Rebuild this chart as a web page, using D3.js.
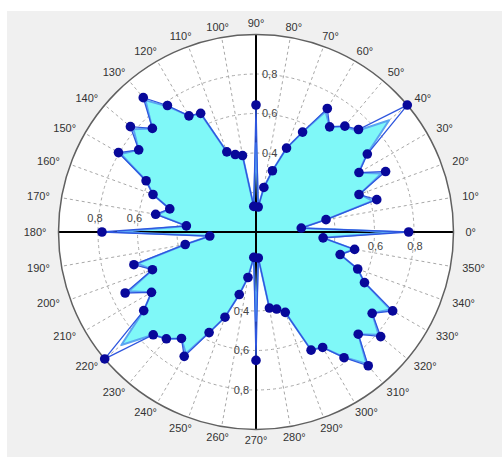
<!DOCTYPE html>
<html>
<head>
<meta charset="utf-8">
<script src="https://cdn.jsdelivr.net/npm/d3@7"></script>
<style>
  body { margin: 0; background: #fff; }
  text { font-family: Arial, "Liberation Sans", sans-serif; }
</style>
</head>
<body>
<svg id="polar" width="502" height="457"></svg>
<script>
(function(){
  // angle categories (degrees) and measured values
  var angles = [0,5,10,15,20,25,30,35,40,45,50,55,60,65,70,75,80,85,
                90,95,100,105,110,115,120,125,130,135,140,145,150,155,160,165,170,175,
                180,185,190,195,200,205,210,215,220,225,230,235,240,245,250,255,260,265,
                270,275,280,285,290,295,300,305,310,315,320,325,330,335,340,345,350,355]

  var markerVals = [0.773,0.230,0.360,0.633,0.555,0.724,0.602,0.688,1.000,0.734,0.700,0.650,0.722,0.558,0.452,0.321,0.229,0.127,
                    0.643,0.130,0.393,0.406,0.432,0.663,0.679,0.782,0.888,0.742,0.830,0.725,0.804,0.614,0.555,0.452,0.516,0.354,
                    0.780,0.235,0.364,0.640,0.558,0.731,0.611,0.694,1.000,0.736,0.706,0.658,0.727,0.562,0.459,0.328,0.234,0.129,
                    0.650,0.132,0.391,0.404,0.433,0.660,0.675,0.777,0.884,0.732,0.824,0.718,0.799,0.606,0.548,0.441,0.507,0.341]

  var fillVals = [0.700,0.230,0.360,0.610,0.560,0.700,0.600,0.685,0.880,0.725,0.695,0.650,0.705,0.558,0.452,0.321,0.229,0.127,
                  0.450,0.130,0.393,0.406,0.432,0.660,0.679,0.775,0.870,0.742,0.810,0.725,0.790,0.614,0.555,0.452,0.505,0.354,
                  0.700,0.235,0.364,0.620,0.558,0.710,0.611,0.694,0.890,0.736,0.706,0.658,0.710,0.562,0.459,0.328,0.234,0.129,
                  0.450,0.132,0.391,0.404,0.433,0.658,0.675,0.772,0.870,0.732,0.810,0.718,0.785,0.606,0.548,0.441,0.505,0.341]

  var ringTicks = [0.2, 0.4, 0.6, 0.8]
  var labeledTicks = [0.4, 0.6, 0.8]
  var spokeAngles = [0,10,20,30,40,50,60,70,80,90,100,110,120,130,140,150,160,170,
                     180,190,200,210,220,230,240,250,260,270,280,290,300,310,320,330,340,350]

  var svg = d3.select('#polar'),
      width = +svg.attr('width'),
      height = +svg.attr('height')

  var cx = 256, cy = 232, R = 197.5

  var rScale = d3.scaleLinear().domain([0, 1]).range([0, R])
  // polar degrees (ccw from east) -> d3 radial angle (cw from north)
  var aScale = d3.scaleLinear().domain([0, 360]).range([Math.PI / 2, Math.PI / 2 - 2 * Math.PI])

  function px(deg, v) { return rScale(v) * Math.sin(aScale(deg)) }
  function py(deg, v) { return -rScale(v) * Math.cos(aScale(deg)) }

  // panel background
  svg.append('rect')
    .attr('x', 7).attr('y', 11)
    .attr('width', width - 7).attr('height', height - 11)
    .attr('fill', '#f0f0f0')

  var g = svg.append('g').attr('transform', 'translate(' + cx + ',' + cy + ')')

  g.append('circle').attr('r', rScale(1)).attr('fill', '#fff')

  // dashed grid
  g.append('g').selectAll('circle')
    .data(ringTicks).enter().append('circle')
    .attr('r', d => rScale(d))
    .attr('fill', 'none')
    .attr('stroke', '#a8a8a8')
    .attr('stroke-width', 1)
    .attr('stroke-dasharray', '3,3')

  g.append('g').selectAll('line')
    .data(spokeAngles.filter(a => a % 90 !== 0)).enter().append('line')
    .attr('x1', 0).attr('y1', 0)
    .attr('x2', d => px(d, 1)).attr('y2', d => py(d, 1))
    .attr('stroke', '#a8a8a8')
    .attr('stroke-width', 1)
    .attr('stroke-dasharray', '3,3')

  // radial tick labels on the four axes
  var tl = g.append('g').attr('font-size', '11px').attr('fill', '#444')
  labeledTicks.forEach(function(t) {
    var r = rScale(t)
    tl.append('text').text(String(t).replace('.', ','))
      .attr('x', 6).attr('y', -r).attr('dy', '0.35em')
    tl.append('text').text(String(t).replace('.', ','))
      .attr('x', -7).attr('y', r).attr('dy', '0.35em').attr('text-anchor', 'end')
    if (t > 0.5) {
      tl.append('text').text(String(t).replace('.', ','))
        .attr('x', -r - 3).attr('y', -10).attr('text-anchor', 'middle')
      tl.append('text').text(String(t).replace('.', ','))
        .attr('x', r + 1).attr('y', 14).attr('dy', '0.35em').attr('text-anchor', 'middle')
    }
  })

  // data: filled area
  var fillData = angles.map((a, i) => ({a: a, v: fillVals[i]}))
  var markData = angles.map((a, i) => ({a: a, v: markerVals[i]}))

  var radial = d3.lineRadial()
    .angle(d => aScale(d.a))
    .radius(d => rScale(d.v))
    .curve(d3.curveLinearClosed)

  g.append('path')
    .attr('d', radial(fillData))
    .attr('fill', '#7ff8f8')
    .attr('stroke', 'none')

  // axes
  g.append('line').attr('x1', -rScale(1)).attr('x2', rScale(1)).attr('y1', 0).attr('y2', 0)
    .attr('stroke', '#000').attr('stroke-width', 2)
  g.append('line').attr('y1', -rScale(1)).attr('y2', rScale(1)).attr('x1', 0).attr('x2', 0)
    .attr('stroke', '#000').attr('stroke-width', 2)

  g.append('circle').attr('r', rScale(1))
    .attr('fill', 'none').attr('stroke', '#606060').attr('stroke-width', 1.5)

  g.append('path')
    .attr('d', radial(fillData))
    .attr('fill', 'none')
    .attr('stroke', '#5aa6f2')
    .attr('stroke-width', 2)
    .attr('stroke-linejoin', 'round')

  g.append('path')
    .attr('d', radial(markData))
    .attr('fill', 'none')
    .attr('stroke', '#2e56de')
    .attr('stroke-width', 1.3)

  g.append('g').selectAll('circle')
    .data(markData).enter().append('circle')
    .attr('cx', d => px(d.a, d.v))
    .attr('cy', d => py(d.a, d.v))
    .attr('r', 4.8)
    .attr('fill', '#08089a')

  // angle labels
  var al = g.append('g').attr('font-size', '11px').attr('fill', '#333')
  spokeAngles.forEach(function(a) {
    var t = al.append('text').text(a + '°')
      .attr('text-anchor', 'middle').attr('dy', '0.35em')
    var w = t.node().getComputedTextLength()
    var rad = a * Math.PI / 180
    t.attr('x', (R + 12 + w / 2) * Math.cos(rad))
     .attr('y', -(R + 11) * Math.sin(rad))
  })
})()
</script>
</body>
</html>
